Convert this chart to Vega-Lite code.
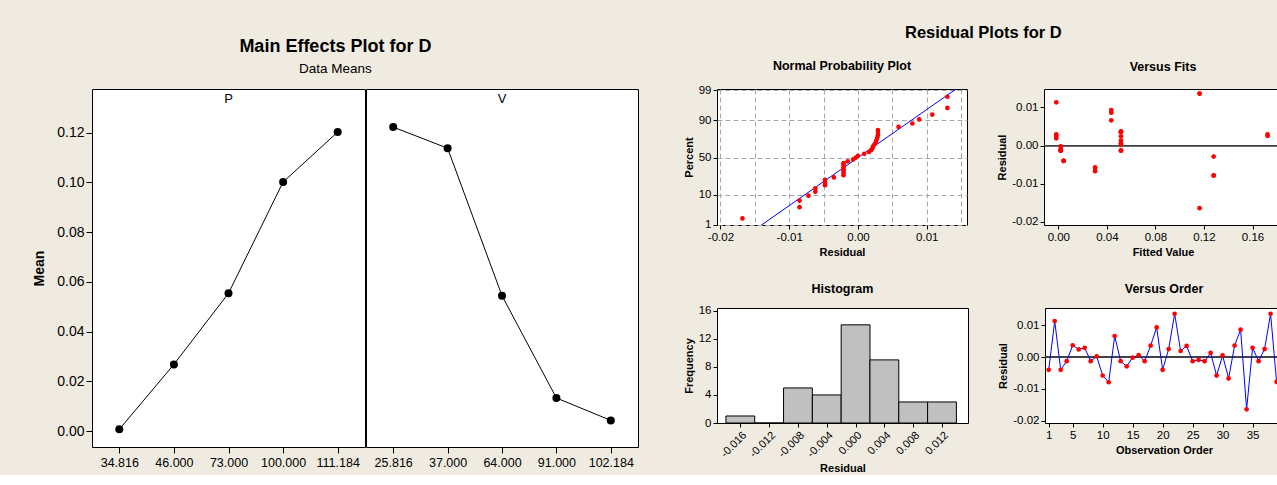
{
  "$schema": "https://vega.github.io/schema/vega-lite/v6.json",
  "background": "#EFEBE1",
  "padding": {"left": 32, "top": 24, "right": 0, "bottom": 0},
  "spacing": 43,
  "columns": 2,
  "align": "none",
  "datasets": {
    "main": [
      {"factor": "P", "level": "34.816", "mean": 0.0007},
      {"factor": "P", "level": "46.000", "mean": 0.0268},
      {"factor": "P", "level": "73.000", "mean": 0.0554},
      {"factor": "P", "level": "100.000", "mean": 0.1001},
      {"factor": "P", "level": "111.184", "mean": 0.1202},
      {"factor": "V", "level": "25.816", "mean": 0.1222},
      {"factor": "V", "level": "37.000", "mean": 0.1137},
      {"factor": "V", "level": "64.000", "mean": 0.0544},
      {"factor": "V", "level": "91.000", "mean": 0.0133},
      {"factor": "V", "level": "102.184", "mean": 0.0043}
    ],
    "npp": [
      {"resid": -0.0168, "z": -2.102}, {"resid": -0.0085, "z": -1.715}, {"resid": -0.0085, "z": -1.487},
      {"resid": -0.0072, "z": -1.317}, {"resid": -0.0062, "z": -1.178}, {"resid": -0.0062, "z": -1.059},
      {"resid": -0.0048, "z": -0.954}, {"resid": -0.0048, "z": -0.858}, {"resid": -0.0048, "z": -0.769},
      {"resid": -0.0035, "z": -0.686}, {"resid": -0.0021, "z": -0.608}, {"resid": -0.0021, "z": -0.533},
      {"resid": -0.0021, "z": -0.461}, {"resid": -0.0021, "z": -0.391}, {"resid": -0.0021, "z": -0.323},
      {"resid": -0.0021, "z": -0.257}, {"resid": -0.0021, "z": -0.192}, {"resid": -0.0015, "z": -0.128},
      {"resid": -0.0007, "z": -0.064}, {"resid": -0.0003, "z": 0.0}, {"resid": 0.0, "z": 0.064},
      {"resid": 0.0009, "z": 0.128}, {"resid": 0.0016, "z": 0.192}, {"resid": 0.0019, "z": 0.257},
      {"resid": 0.0021, "z": 0.323}, {"resid": 0.0022, "z": 0.391}, {"resid": 0.0024, "z": 0.461},
      {"resid": 0.0026, "z": 0.533}, {"resid": 0.0027, "z": 0.608}, {"resid": 0.0028, "z": 0.686},
      {"resid": 0.0029, "z": 0.769}, {"resid": 0.0029, "z": 0.858}, {"resid": 0.0029, "z": 0.954},
      {"resid": 0.0059, "z": 1.059}, {"resid": 0.0079, "z": 1.178}, {"resid": 0.0089, "z": 1.317},
      {"resid": 0.0108, "z": 1.487}, {"resid": 0.013, "z": 1.715}, {"resid": 0.013, "z": 2.102}
    ],
    "obs": [
      {"order": 1, "fit": 0.0044, "resid": -0.004},
      {"order": 2, "fit": -0.0017, "resid": 0.0113},
      {"order": 3, "fit": 0.0044, "resid": -0.004},
      {"order": 4, "fit": 0.002, "resid": -0.0013},
      {"order": 5, "fit": 0.0516, "resid": 0.0037},
      {"order": 6, "fit": 0.0516, "resid": 0.0024},
      {"order": 7, "fit": -0.0017, "resid": 0.0029},
      {"order": 8, "fit": 0.002, "resid": -0.0013},
      {"order": 9, "fit": 0.0516, "resid": 0.0002},
      {"order": 10, "fit": 0.0303, "resid": -0.0058},
      {"order": 11, "fit": 0.128, "resid": -0.0079},
      {"order": 12, "fit": 0.0436, "resid": 0.0066},
      {"order": 13, "fit": 0.0516, "resid": -0.0013},
      {"order": 14, "fit": 0.128, "resid": -0.0029},
      {"order": 15, "fit": 0.002, "resid": -0.0002},
      {"order": 16, "fit": 0.0516, "resid": 0.0006},
      {"order": 17, "fit": 0.0516, "resid": -0.0013},
      {"order": 18, "fit": 0.0516, "resid": 0.0036},
      {"order": 19, "fit": 0.0436, "resid": 0.0093},
      {"order": 20, "fit": 0.0044, "resid": -0.004},
      {"order": 21, "fit": 0.1724, "resid": 0.0025},
      {"order": 22, "fit": 0.1164, "resid": 0.0136},
      {"order": 23, "fit": -0.0017, "resid": 0.0019},
      {"order": 24, "fit": 0.0516, "resid": 0.0035},
      {"order": 25, "fit": 0.002, "resid": -0.0013},
      {"order": 26, "fit": 0.002, "resid": -0.0009},
      {"order": 27, "fit": 0.0516, "resid": -0.0013},
      {"order": 28, "fit": 0.0516, "resid": 0.0013},
      {"order": 29, "fit": 0.0303, "resid": -0.0058},
      {"order": 30, "fit": 0.0516, "resid": 0.0005},
      {"order": 31, "fit": 0.0303, "resid": -0.0067},
      {"order": 32, "fit": 0.0516, "resid": 0.0036},
      {"order": 33, "fit": 0.0436, "resid": 0.0086},
      {"order": 34, "fit": 0.1164, "resid": -0.0164},
      {"order": 35, "fit": 0.1724, "resid": 0.0029},
      {"order": 36, "fit": 0.002, "resid": -0.0013},
      {"order": 37, "fit": -0.0017, "resid": 0.0025},
      {"order": 38, "fit": 0.1164, "resid": 0.0136},
      {"order": 39, "fit": 0.128, "resid": -0.0078}
    ],
    "hist": [
      {"lo": -0.018, "hi": -0.014, "count": 1},
      {"lo": -0.014, "hi": -0.01, "count": 0},
      {"lo": -0.01, "hi": -0.006, "count": 5},
      {"lo": -0.006, "hi": -0.002, "count": 4},
      {"lo": -0.002, "hi": 0.002, "count": 14},
      {"lo": 0.002, "hi": 0.006, "count": 9},
      {"lo": 0.006, "hi": 0.01, "count": 3},
      {"lo": 0.01, "hi": 0.014, "count": 3}
    ]
  },
  "concat": [
    {
      "title": {"text": "Main Effects Plot for D", "subtitle": "Data Means", "fontSize": 18, "subtitleFontSize": 13.5, "subtitleColor": "#000", "subtitlePadding": 6, "offset": -50, "anchor": "middle"},
      "spacing": -3,
      "hconcat": [
        {
          "width": 273, "height": 358,
          "title": {"text": " ", "fontSize": 14, "offset": 49.5},
          "layer": [
            {"data": {"name": "main"}, "transform": [{"filter": "datum.factor === 'P'"}],
             "mark": {"type": "line", "color": "#000", "strokeWidth": 1},
             "encoding": {
               "x": {"field": "level", "type": "nominal", "sort": null, "scale": {"type": "point", "padding": 0.5},
                     "axis": {"title": null, "labelAngle": 0, "labelFontSize": 12.5, "tickSize": 6, "labelPadding": 3}},
               "y": {"field": "mean", "type": "quantitative", "scale": {"domain": [-0.0064, 0.1375], "nice": false, "zero": false},
                     "axis": {"title": "Mean", "values": [0, 0.02, 0.04, 0.06, 0.08, 0.1, 0.12], "format": ".2f", "labelFontSize": 14, "titleFontSize": 14, "tickSize": 6, "titlePadding": 10}}
             }},
            {"data": {"name": "main"}, "transform": [{"filter": "datum.factor === 'P'"}],
             "mark": {"type": "point", "filled": true, "color": "#000", "size": 64, "opacity": 1},
             "encoding": {"x": {"field": "level", "type": "nominal", "sort": null}, "y": {"field": "mean", "type": "quantitative"}}},
            {"mark": {"type": "rule", "color": "#666", "strokeWidth": 1}, "encoding": {"y": {"datum": 0.0582, "type": "quantitative"}}},
            {"mark": {"type": "rule", "color": "#000", "strokeWidth": 1.2}, "encoding": {"y": {"datum": 0.129, "type": "quantitative"}}},
            {"data": {"values": [{"lab": "P"}]}, "mark": {"type": "text", "fontSize": 13, "baseline": "middle", "color": "#000"},
             "encoding": {"text": {"field": "lab"}, "y": {"datum": 0.1333, "type": "quantitative"}}}
          ]
        },
        {
          "width": 272, "height": 358,
          "title": {"text": " ", "fontSize": 14, "offset": 49.5},
          "layer": [
            {"data": {"name": "main"}, "transform": [{"filter": "datum.factor === 'V'"}],
             "mark": {"type": "line", "color": "#000", "strokeWidth": 1},
             "encoding": {
               "x": {"field": "level", "type": "nominal", "sort": null, "scale": {"type": "point", "padding": 0.5},
                     "axis": {"title": null, "labelAngle": 0, "labelFontSize": 12.5, "tickSize": 6, "labelPadding": 3}},
               "y": {"field": "mean", "type": "quantitative", "scale": {"domain": [-0.0064, 0.1375], "nice": false, "zero": false}, "axis": null}
             }},
            {"data": {"name": "main"}, "transform": [{"filter": "datum.factor === 'V'"}],
             "mark": {"type": "point", "filled": true, "color": "#000", "size": 64, "opacity": 1},
             "encoding": {"x": {"field": "level", "type": "nominal", "sort": null}, "y": {"field": "mean", "type": "quantitative"}}},
            {"mark": {"type": "rule", "color": "#666", "strokeWidth": 1}, "encoding": {"y": {"datum": 0.0582, "type": "quantitative"}}},
            {"mark": {"type": "rule", "color": "#000", "strokeWidth": 1.2}, "encoding": {"y": {"datum": 0.129, "type": "quantitative"}}},
            {"data": {"values": [{"lab": "V"}]}, "mark": {"type": "text", "fontSize": 13, "baseline": "middle", "color": "#000"},
             "encoding": {"text": {"field": "lab"}, "y": {"datum": 0.1333, "type": "quantitative"}}}
          ]
        }
      ]
    },
    {
      "title": {"text": "Residual Plots for D", "fontSize": 16.5, "offset": 18, "anchor": "middle"},
      "spacing": 24,
      "vconcat": [
        {
          "spacing": 28,
          "hconcat": [
            {
              "width": 250, "height": 136,
              "title": {"text": "Normal Probability Plot", "fontSize": 12.5, "offset": 12},
              "layer": [
                {"data": {"values": [{"resid": -0.01505, "z": -2.5}, {"resid": 0.01505, "z": 2.5}]},
                 "mark": {"type": "line", "color": "#0000ff", "strokeWidth": 1, "clip": true},
                 "encoding": {
                   "x": {"field": "resid", "type": "quantitative", "scale": {"domain": [-0.0205, 0.01585], "nice": false, "zero": false},
                         "axis": {"title": "Residual", "values": [-0.02, -0.015, -0.01, -0.005, 0, 0.005, 0.01, 0.015],
                                  "labelExpr": "abs(datum.value*100 - round(datum.value*100)) < 0.001 ? replace(format(datum.value, '.2f'), '\u2212', '-') : ''",
                                  "tickOpacity": {"condition": {"test": "abs(datum.value*100 - round(datum.value*100)) < 0.001", "value": 1}, "value": 0},
                                  "grid": true, "gridDash": [5, 3], "gridColor": "#a8a8a8"}},
                   "y": {"field": "z", "type": "quantitative", "scale": {"domain": [-2.33, 2.37], "nice": false, "zero": false},
                         "axis": {"title": "Percent", "values": [-2.326, -1.2816, 0, 1.2816, 2.326],
                                  "labelExpr": "datum.value < -2 ? '1' : datum.value < -1 ? '10' : datum.value < 1 ? '50' : datum.value < 2 ? '90' : '99'",
                                  "grid": true, "gridDash": [5, 3], "gridColor": "#a8a8a8"}}
                 }},
                {"data": {"name": "npp"},
                 "mark": {"type": "point", "filled": true, "color": "#ff0000", "size": 22, "opacity": 1},
                 "encoding": {"x": {"field": "resid", "type": "quantitative"}, "y": {"field": "z", "type": "quantitative"}}}
              ]
            },
            {
              "width": 238, "height": 136,
              "title": {"text": "Versus Fits", "fontSize": 12.5, "offset": 16},
              "data": {"name": "obs"},
              "layer": [
                {"mark": {"type": "rule", "color": "#444", "strokeWidth": 1},
                 "encoding": {"y": {"datum": 0, "type": "quantitative", "scale": {"domain": [-0.0208, 0.0148], "nice": false, "zero": false},
                   "axis": {"title": "Residual", "values": [-0.02, -0.01, 0, 0.01], "labelExpr": "replace(format(datum.value, '.2f'), '\u2212', '-')"}}}},
                {"mark": {"type": "point", "filled": true, "color": "#ff0000", "size": 22, "opacity": 1},
                 "encoding": {
                   "x": {"field": "fit", "type": "quantitative", "scale": {"domain": [-0.0118, 0.1843], "nice": false, "zero": false},
                         "axis": {"title": "Fitted Value", "values": [0, 0.04, 0.08, 0.12, 0.16], "format": ".2f"}},
                   "y": {"field": "resid", "type": "quantitative"}
                 }}
              ]
            }
          ]
        },
        {
          "spacing": 28,
          "hconcat": [
            {
              "width": 251, "height": 115,
              "title": {"text": "Histogram", "fontSize": 12.5, "offset": 9},
              "data": {"name": "hist"},
              "mark": {"type": "rect", "fill": "#c0c0c0", "stroke": "#000", "strokeWidth": 1},
              "encoding": {
                "x": {"field": "lo", "type": "quantitative", "scale": {"domain": [-0.01924, 0.01561], "nice": false, "zero": false},
                      "axis": {"title": "Residual", "values": [-0.016, -0.012, -0.008, -0.004, 0, 0.004, 0.008, 0.012],
                               "labelExpr": "replace(format(datum.value, '.3f'), '\u2212', '-')", "labelAngle": -45, "labelFontSize": 11}},
                "x2": {"field": "hi"},
                "y": {"field": "count", "type": "quantitative", "scale": {"domain": [0, 16.4], "nice": false},
                      "axis": {"title": "Frequency", "values": [0, 4, 8, 12, 16], "format": "d"}},
                "y2": {"datum": 0}
              }
            },
            {
              "width": 238, "height": 115,
              "title": {"text": "Versus Order", "fontSize": 12.5, "offset": 13},
              "data": {"name": "obs"},
              "layer": [
                {"mark": {"type": "rule", "color": "#444", "strokeWidth": 1},
                 "encoding": {"y": {"datum": 0, "type": "quantitative", "scale": {"domain": [-0.0207, 0.0154], "nice": false, "zero": false},
                   "axis": {"title": "Residual", "values": [-0.02, -0.01, 0, 0.01], "labelExpr": "replace(format(datum.value, '.2f'), '\u2212', '-')"}}}},
                {"mark": {"type": "line", "color": "#0000ff", "strokeWidth": 1},
                 "encoding": {
                   "x": {"field": "order", "type": "quantitative", "scale": {"domain": [0.38, 40.07], "nice": false, "zero": false},
                         "axis": {"title": "Observation Order", "values": [1, 5, 10, 15, 20, 25, 30, 35], "format": "d"}},
                   "y": {"field": "resid", "type": "quantitative"}
                 }},
                {"mark": {"type": "point", "filled": true, "color": "#ff0000", "size": 22, "opacity": 1},
                 "encoding": {"x": {"field": "order", "type": "quantitative"}, "y": {"field": "resid", "type": "quantitative"}}}
              ]
            }
          ]
        }
      ]
    }
  ],
  "config": {
    "font": "Liberation Sans",
    "view": {"stroke": "#000", "strokeWidth": 1, "fill": "#fff"},
    "axis": {"labelColor": "#000", "titleColor": "#000", "tickColor": "#000", "domain": false, "grid": false,
             "labelFontSize": 11.5, "titleFontSize": 11, "titleFontWeight": "bold", "tickSize": 4, "labelPadding": 2,
             "titlePadding": 4, "labelFlush": false, "labelOverlap": false, "tickCount": 50},
    "title": {"color": "#000", "fontWeight": "bold", "anchor": "middle"}
  }
}
